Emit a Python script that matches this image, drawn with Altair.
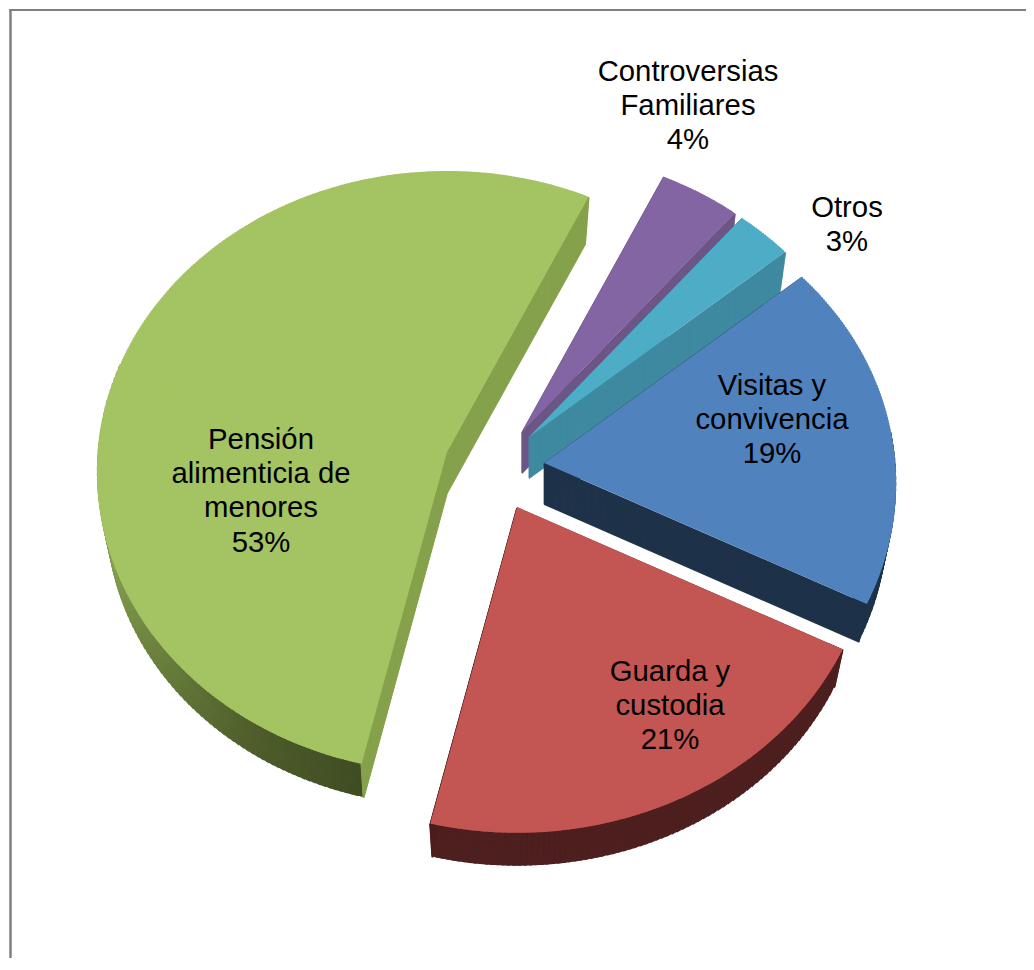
import math
import altair as alt
import pandas as pd

# ---- values ----
categories = ["Pensión alimenticia de menores", "Controversias Familiares", "Otros",
              "Visitas y convivencia", "Guarda y custodia"]
shares = [53.4, 4.0, 2.8, 18.6, 21.2]
labels = ["Pensión\nalimenticia de\nmenores\n53%", "Controversias\nFamiliares\n4%", "Otros\n3%",
          "Visitas y\nconvivencia\n19%", "Guarda y\ncustodia\n21%"]

# ---- styling / layout (page pixels) ----
TOP = ["#A4C362", "#8265A2", "#4DACC6", "#5082BE", "#C35552"]
WALL = ["#86A24C", "#6C5686", "#3F8AA0", "#1E3249", "#4D1F1E"]
APEX = [(447, 452), (522, 432), (529, 437), (544, 463), (517, 507)]
SIZE = [1.0, 1.0, 1.0, 1.006, 1.015]
LABEL_POS = [(261, 440), (688, 72), (847, 208), (772, 386), (670, 672)]
GREEN_BAND = [(190, "#3B4820"), (218, "#4F5E2C"), (244, "#6F8640"), (262, "#8AA650"), (290, "#8AA650")]
RX, RY, CY, DEPTH, SHRINK = 350.0, 301.0, 20.0, 41, 0.025
T0 = 25.5  # first slice angle
ORIGIN = 8


def screen_angle(t):
    a = math.atan2(RX * math.sin(t), RY * math.cos(t))
    while a < t - math.pi / 2:
        a += 2 * math.pi
    return a


def edge_radius(a):
    s, c = math.sin(a), math.cos(a)
    qa = (s / RX) ** 2 + (c / RY) ** 2
    qb = 2 * CY * c / RY ** 2
    qc = (CY / RY) ** 2 - 1
    return (-qb + math.sqrt(qb * qb - 4 * qa * qc)) / (2 * qa)


def mix(stops, deg):
    deg = ((deg - 90) % 360) + 90
    for (d0, c0), (d1, c1) in zip(stops, stops[1:]):
        if d0 <= deg <= d1:
            f = (deg - d0) / (d1 - d0)
            rgb = [round(int(c0[i:i + 2], 16) * (1 - f) + int(c1[i:i + 2], 16) * f) for i in (1, 3, 5)]
            return "#%02x%02x%02x" % tuple(rgb)
    return stops[-1][1] if deg > stops[-1][0] else stops[0][1]


# clockwise order on the pie, starting from the first edge
clockwise = [1, 2, 3, 4, 0]
spans = {}
cur = T0
for i in clockwise:
    end = cur + shares[i] / sum(shares) * 360
    spans[i] = (screen_angle(math.radians(cur)), screen_angle(math.radians(end)))
    cur = end

rows = []


def add(i, a0, a1, r0, r1, dy, fill, sw=0.0):
    ax, ay = APEX[i]
    rows.append(dict(a0=a0, a1=a1, r0=r0, r1=r1, x=ax - ORIGIN, y=ay - ORIGIN + dy,
                     fill=fill, stroke=fill, sw=sw))


for i in range(5):  # painter's order: green, purple, cyan, blue, red
    a_s, a_e = spans[i]
    # outer band
    step = math.radians(1.0)
    lo, hi = a_s, a_e
    if i in (3, 4, 0):
        if i == 3:
            lo = max(lo, math.radians(85))
        if i == 0:
            hi = min(hi, math.radians(285))
        n = max(1, int((hi - lo) / step))
        for k in range(n):
            p0 = lo + (hi - lo) * k / n
            p1 = min(hi, lo + (hi - lo) * (k + 1) / n + 0.012)
            r = edge_radius((p0 + p1) / 2) * SIZE[i]
            col = mix(GREEN_BAND, math.degrees(p0)) if i == 0 else WALL[i]
            for q in range(9):
                f = q / 8
                sc = 1 - SHRINK * f
                add(i, p0, p1, r * sc, (r - 16) * sc, DEPTH * f, col)
    # radial walls
    for edge in (a_s, a_e):
        r = edge_radius(edge) * SIZE[i]
        for d in range(1, DEPTH + 1):
            sc = 1 - SHRINK * d / DEPTH
            add(i, edge - 0.0005, edge + 0.0005, r * sc, 0, d, WALL[i], 1.6)
    # top surface: one solid sector out to the nearest edge, then the rim in fine steps
    step = math.radians(0.5)
    n = max(1, int((a_e - a_s) / step))
    rmin = min(edge_radius(a_s + (a_e - a_s) * k / n) for k in range(n + 1)) * SIZE[i]
    add(i, a_s, a_e, rmin - 2, 0, 0, TOP[i])
    for k in range(n):
        p0 = a_s + (a_e - a_s) * k / n
        p1 = min(a_e, a_s + (a_e - a_s) * (k + 1) / n + 0.003)
        add(i, p0, p1, edge_radius((p0 + p1) / 2) * SIZE[i], rmin - 4, 0, TOP[i])

pie = alt.Chart(pd.DataFrame(rows)).mark_arc().encode(
    theta=alt.Theta("a0:Q", scale=None, stack=None),
    theta2=alt.Theta2("a1:Q"),
    radius=alt.Radius("r0:Q", scale=None),
    radius2=alt.Radius2("r1:Q"),
    x=alt.X("x:Q", scale=None, axis=None),
    y=alt.Y("y:Q", scale=None, axis=None),
    fill=alt.Fill("fill:N", scale=None),
    stroke=alt.Stroke("stroke:N", scale=None),
    strokeWidth=alt.StrokeWidth("sw:Q", scale=None),
)

text = alt.Chart(pd.DataFrame({
    "label": labels,
    "x": [p[0] - ORIGIN for p in LABEL_POS],
    "y": [p[1] - ORIGIN for p in LABEL_POS],
})).mark_text(font="Liberation Sans", fontSize=29.3, lineHeight=34.2, lineBreak="\n",
              color="#000000", align="center", baseline="middle").encode(
    x=alt.X("x:Q", scale=None, axis=None),
    y=alt.Y("y:Q", scale=None, axis=None),
    text="label:N",
)

W, H = 1018, 950
frame_left = alt.Chart(pd.DataFrame({"a": [0]})).mark_rule(color="#808080", strokeWidth=2.5).encode(
    x=alt.value(2.5), y=alt.value(2), y2=alt.value(H))
frame_top = alt.Chart(pd.DataFrame({"a": [0]})).mark_rule(color="#808080", strokeWidth=2).encode(
    y=alt.value(2), x=alt.value(1), x2=alt.value(W))

chart = alt.layer(frame_left, frame_top, pie, text).properties(
    width=W, height=H, padding=0, autosize=alt.AutoSizeParams(type="none"),
    background="#FFFFFF",
).configure_view(stroke=None)

chart.save("out.html", embed_options={"renderer": "svg", "actions": False})
